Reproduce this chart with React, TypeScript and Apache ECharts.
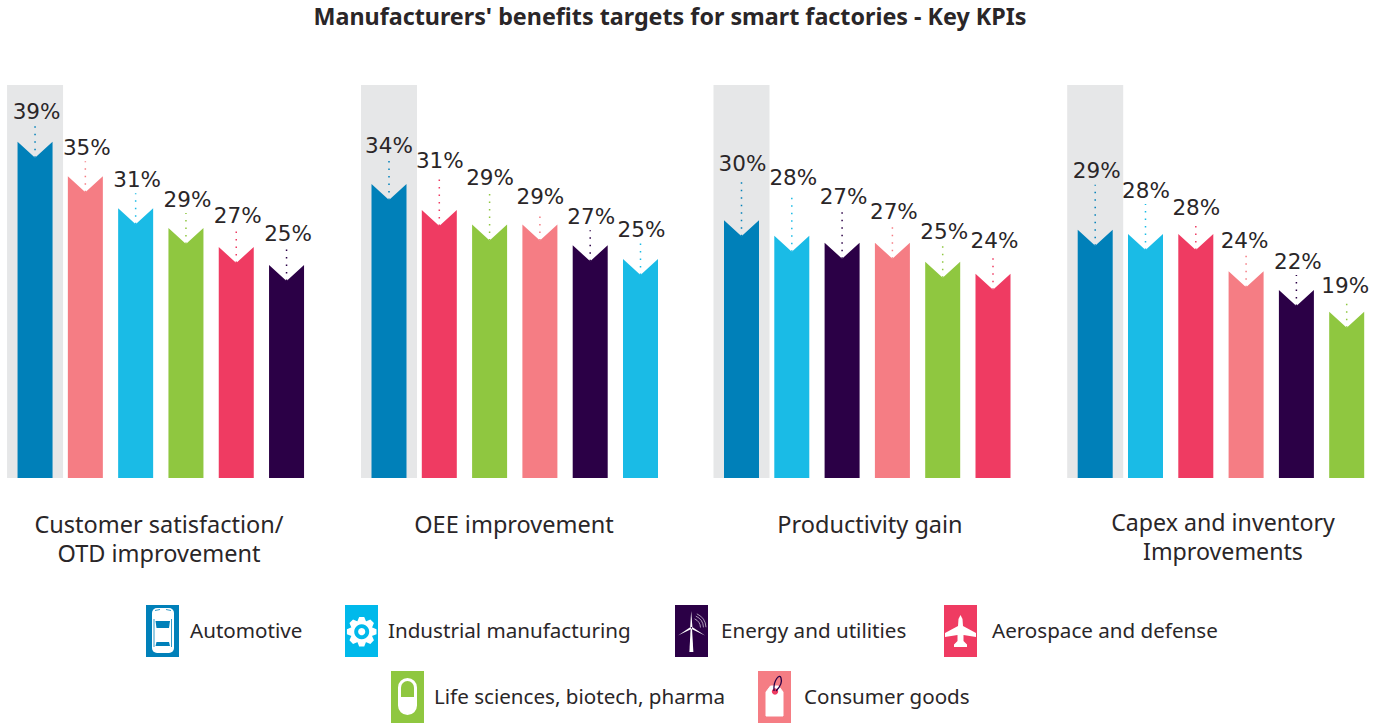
import React, { useEffect, useRef } from "react";
import * as echarts from "echarts";

const title = "Manufacturers' benefits targets for smart factories - Key KPIs";

const AUTO = "#0080B9";
const COAL = "#F57D84";
const CYAN = "#1ABBE6";
const GREEN = "#8FC740";
const RED = "#EF3B62";
const NAVY = "#2B0046";
const INK = "#2A2628";
const FONT = "'Noto Sans', sans-serif";

const panelNames = [
  ["Customer satisfaction/", "OTD improvement"],
  ["OEE improvement"],
  ["Productivity gain"],
  ["Capex and inventory", "Improvements"],
];

const industries1 = ["Automotive", "Consumer goods", "Industrial manufacturing", "Life sciences, biotech, pharma", "Aerospace and defense", "Energy and utilities"];
const industries2 = ["Automotive", "Aerospace and defense", "Life sciences, biotech, pharma", "Consumer goods", "Energy and utilities", "Industrial manufacturing"];
const industries3 = ["Automotive", "Industrial manufacturing", "Energy and utilities", "Consumer goods", "Life sciences, biotech, pharma", "Aerospace and defense"];
const industries4 = ["Automotive", "Industrial manufacturing", "Aerospace and defense", "Consumer goods", "Energy and utilities", "Life sciences, biotech, pharma"];

const values1 = [39.0, 35.0, 31.3, 29.0, 26.8, 24.7];
const values2 = [34.1, 31.1, 29.4, 29.4, 27.0, 25.4];
const values3 = [29.9, 28.1, 27.3, 27.3, 25.1, 23.7];
const values4 = [28.8, 28.3, 28.3, 24.0, 21.8, 19.3];

const highlightTop = 45.6;

const colorOf: Record<string, string> = {
  Automotive: AUTO,
  "Consumer goods": COAL,
  "Industrial manufacturing": CYAN,
  "Life sciences, biotech, pharma": GREEN,
  "Aerospace and defense": RED,
  "Energy and utilities": NAVY,
};

// layout only
const labelRise = [
  [30, 29, 29, 29, 31, 32],
  [39, 49, 47, 28, 29, 30],
  [57, 58, 46, 31, 30, 33],
  [59, 44, 27, 31, 29, 26],
];
const labelShift = [
  [1.5, 1.5, 1.5, 1.5, 1.5, 1.5],
  [0, 0.5, 0.5, 0.5, 1, 1],
  [1, 1.5, 1.5, 1.5, 1.5, 1.5],
  [1.5, 0.5, 0.5, -1.5, 1.5, -1.5],
];
const gridLefts = [9.9, 363.85, 716.35, 1070.05];
const panelLabelPos = [
  [159, 524],
  [514, 524],
  [870, 524],
  [1223, 522],
];

function carIcon() {
  return [
    { type: "rect", shape: { x: 6, y: 3, width: 22, height: 45, r: 5 }, style: { fill: "#fff" } },
    { type: "line", shape: { x1: 8, y1: 14, x2: 8, y2: 42 }, style: { stroke: AUTO, lineWidth: 0.8 } },
    { type: "line", shape: { x1: 25.5, y1: 14, x2: 25.5, y2: 42 }, style: { stroke: AUTO, lineWidth: 0.8 } },
    { type: "polygon", shape: { points: [[9.5, 16], [24, 16], [23, 23], [10.5, 23]] }, style: { fill: AUTO } },
    { type: "polygon", shape: { points: [[10.5, 37], [23, 37], [24, 41], [9.5, 41]] }, style: { fill: AUTO } },
    { type: "line", shape: { x1: 9, y1: 5.5, x2: 14, y2: 4.5 }, style: { stroke: AUTO, lineWidth: 0.8 } },
    { type: "line", shape: { x1: 20, y1: 4.5, x2: 25, y2: 5.5 }, style: { stroke: AUTO, lineWidth: 0.8 } },
  ];
}

function gearIcon() {
  const pts: number[][] = [];
  const cx = 16.7, cy = 26.7;
  for (let i = 0; i < 8; i++) {
    const a = (i * Math.PI) / 4 - Math.PI / 2;
    const w = 0.24, g = 0.17;
    pts.push([cx + 11 * Math.cos(a - w - g), cy + 11 * Math.sin(a - w - g)]);
    pts.push([cx + 15 * Math.cos(a - g), cy + 15 * Math.sin(a - g)]);
    pts.push([cx + 15 * Math.cos(a + g), cy + 15 * Math.sin(a + g)]);
    pts.push([cx + 11 * Math.cos(a + w + g), cy + 11 * Math.sin(a + w + g)]);
  }
  return [
    { type: "polygon", shape: { points: pts }, style: { fill: "#fff" } },
    { type: "circle", shape: { cx, cy, r: 7.5 }, style: { fill: "#00B9EB" } },
    { type: "circle", shape: { cx, cy, r: 3.6 }, style: { fill: "#fff" } },
  ];
}

function turbineIcon() {
  const arc = (r: number) => ({
    type: "arc",
    shape: { cx: 15.5, cy: 23, r, startAngle: -1.15, endAngle: -0.05 },
    style: { stroke: "#fff", lineWidth: 0.6, fill: "none" },
  });
  return [
    { type: "polygon", shape: { points: [[15.6, 24], [17, 24], [18.4, 47], [14.4, 47]] }, style: { fill: "#fff" } },
    { type: "polygon", shape: { points: [[16.2, 6], [17.4, 22], [15.2, 22]] }, style: { fill: "#fff" } },
    { type: "polygon", shape: { points: [[3, 30.5], [15.6, 22], [16.4, 24]] }, style: { fill: "#fff" } },
    { type: "polygon", shape: { points: [[30, 30.5], [16.6, 24], [17.2, 22]] }, style: { fill: "#fff" } },
    arc(10), arc(13), arc(15.5),
  ];
}

function planeIcon() {
  return [
    {
      type: "polygon",
      shape: {
        points: [[16.5, 10], [18.5, 14], [19, 21], [32, 28], [32, 32], [19.5, 30], [19.5, 36], [23, 39.5], [23, 42], [10, 42], [10, 39.5], [13.5, 36], [13.5, 30], [1, 32], [1, 28], [14, 21], [14.5, 14]],
      },
      style: { fill: "#fff" },
    },
  ];
}

function pillIcon() {
  return [
    { type: "rect", shape: { x: 7, y: 7, width: 19, height: 37, r: 9.5 }, style: { fill: "#fff" } },
    { type: "rect", shape: { x: 10, y: 10, width: 13, height: 16, r: [6.5, 6.5, 0, 0] }, style: { fill: GREEN } },
  ];
}

function tagIcon() {
  return [
    { type: "polygon", shape: { points: [[12.5, 15], [20.5, 15], [25, 21], [25, 45], [8, 45], [8, 21]] }, style: { fill: "#fff", stroke: "#fff", lineWidth: 1, lineJoin: "round" } },
    { type: "circle", shape: { cx: 17, cy: 20.5, r: 3.2 }, style: { fill: RED } },
    {
      type: "bezierCurve",
      shape: { x1: 16, y1: 20, x2: 23, y2: 7, cpx1: 15, cpy1: 9, cpx2: 22, cpy2: 2 },
      style: { stroke: NAVY, lineWidth: 1.3, fill: "none" },
    },
    {
      type: "bezierCurve",
      shape: { x1: 18, y1: 20, x2: 23, y2: 7, cpx1: 23, cpy1: 15, cpx2: 24, cpy2: 10 },
      style: { stroke: NAVY, lineWidth: 1.3, fill: "none" },
    },
  ];
}

const legendItems = [
  { name: "Automotive", x: 146, y: 605, textX: 190, icon: carIcon, fill: AUTO },
  { name: "Industrial manufacturing", x: 345, y: 605, textX: 388, icon: gearIcon, fill: "#00B9EB" },
  { name: "Energy and utilities", x: 675, y: 605, textX: 721, icon: turbineIcon, fill: NAVY },
  { name: "Aerospace and defense", x: 944, y: 605, textX: 992, icon: planeIcon, fill: RED },
  { name: "Life sciences, biotech, pharma", x: 391, y: 671, textX: 434, icon: pillIcon, fill: GREEN },
  { name: "Consumer goods", x: 758, y: 671, textX: 804, icon: tagIcon, fill: COAL },
];

const panels = [
  { names: industries1, values: values1 },
  { names: industries2, values: values2 },
  { names: industries3, values: values3 },
  { names: industries4, values: values4 },
];

const BAR_W = 35;
const NOTCH = 16;

export default function App() {
  const ref = useRef<HTMLDivElement>(null);
  useEffect(() => {
    const chart = echarts.init(ref.current!, null, { renderer: "svg" });
    const series: any[] = [];
    panels.forEach((p, i) => {
      series.push({
        type: "bar",
        xAxisIndex: i,
        yAxisIndex: i,
        barWidth: 56,
        silent: true,
        clip: false,
        z: 1,
        itemStyle: { color: "#E6E7E8" },
        data: p.values.map((_, k) => (k === 0 ? highlightTop : null)),
      });
      series.push({
        type: "custom",
        xAxisIndex: i,
        yAxisIndex: i,
        z: 3,
        silent: true,
        clip: false,
        encode: { x: 0, y: 1 },
        data: p.values.map((v, k) => [k, v]),
        renderItem: (params: any, api: any) => {
          const k = api.value(0);
          const v = api.value(1);
          const [x, top] = api.coord([k, v]);
          const [, base] = api.coord([k, 0]);
          const color = colorOf[p.names[k]];
          const rise = labelRise[i][k];
          return {
            type: "group",
            children: [
              {
                type: "polygon",
                shape: {
                  points: [
                    [x - BAR_W / 2, top],
                    [x, top + NOTCH],
                    [x + BAR_W / 2, top],
                    [x + BAR_W / 2, base],
                    [x - BAR_W / 2, base],
                  ],
                },
                style: { fill: color },
              },
              {
                type: "line",
                shape: { x1: x, y1: top + NOTCH, x2: x, y2: top - rise + 14 },
                style: { stroke: color, lineWidth: 1.5, lineDash: [1.5, 6] },
              },
              {
                type: "text",
                style: {
                  text: `${Math.round(v)}%`,
                  x: x + labelShift[i][k],
                  y: top - rise,
                  align: "center",
                  verticalAlign: "middle",
                  fontSize: 21.5,
                  fontFamily: "'DejaVu Sans', sans-serif",
                  fill: INK,
                },
              },
            ],
          };
        },
      });
    });

    const graphic: any[] = [];
    panelNames.forEach((lines, i) => {
      lines.forEach((line, j) => {
        graphic.push({
          type: "text",
          x: panelLabelPos[i][0],
          y: panelLabelPos[i][1] + j * 29,
          style: { text: line, align: "center", verticalAlign: "middle", fontSize: i === 3 ? 23.2 : 23.5, fontFamily: FONT, fill: INK },
        });
      });
    });
    legendItems.forEach((it) => {
      graphic.push({
        type: "group",
        x: it.x,
        y: it.y,
        children: [
          { type: "rect", shape: { x: 0, y: 0, width: 33, height: 52 }, style: { fill: it.fill } },
          ...it.icon(),
        ],
      });
      graphic.push({
        type: "text",
        x: it.textX,
        y: it.y + 25,
        style: { text: it.name, align: "left", verticalAlign: "middle", fontSize: 20.6, fontFamily: FONT, fill: INK },
      });
    });

    chart.setOption({
      animation: false,
      backgroundColor: "#fff",
      title: {
        text: title,
        left: 665,
        top: -1,
        textAlign: "center",
        textStyle: { fontSize: 23.3, fontWeight: "bold", fontFamily: FONT, color: INK },
      },
      grid: gridLefts.map((left) => ({ left, width: 301.8, top: 81.5, height: 396.5 })),
      xAxis: panels.map((p, i) => ({
        type: "category",
        gridIndex: i,
        show: false,
        data: p.names,
      })),
      yAxis: panels.map((_, i) => ({
        type: "value",
        gridIndex: i,
        show: false,
        min: 0,
        max: 46,
      })),
      series,
      graphic,
    });
    return () => chart.dispose();
  }, []);
  return <div ref={ref} style={{ position: "absolute", left: 0, top: 0, width: 1386, height: 724 }} />;
}
